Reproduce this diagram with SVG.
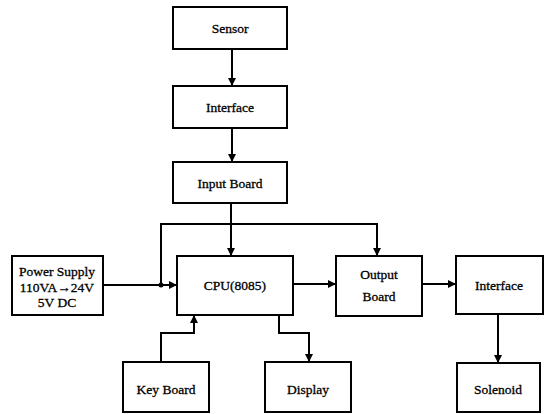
<svg xmlns="http://www.w3.org/2000/svg" width="553" height="414" viewBox="0 0 553 414">
<style>
.box{fill:#fff;stroke:#000;stroke-width:2}
.t{font-family:"Liberation Serif","Times New Roman",serif;font-size:13.5px;fill:#000;text-anchor:middle;dominant-baseline:central;stroke:#000;stroke-width:0.3}
.c{fill:none;stroke:#000;stroke-width:2}
</style>
<defs>
<marker id="ah" viewBox="0 0 10 10" refX="10" refY="5" markerWidth="8" markerHeight="8" markerUnits="userSpaceOnUse" orient="auto">
<path d="M0,0 L10,5 L0,10 z" fill="#000"/>
</marker>
</defs>
<rect width="553" height="414" fill="#fff"/>
<g id="connectors">
<line class="c" x1="232" y1="49" x2="232" y2="86" marker-end="url(#ah)"/>
<line class="c" x1="232" y1="128" x2="232" y2="162" marker-end="url(#ah)"/>
<line class="c" x1="231" y1="203" x2="231" y2="256" marker-end="url(#ah)"/>
<polyline class="c" points="161,285 161,224 377,224 377,256" marker-end="url(#ah)"/>
<line class="c" x1="103" y1="285" x2="177" y2="285" marker-end="url(#ah)"/>
<circle cx="161" cy="285" r="2.5" fill="#000"/>
<line class="c" x1="293" y1="284" x2="336" y2="284" marker-end="url(#ah)"/>
<line class="c" x1="422" y1="284" x2="456" y2="284" marker-end="url(#ah)"/>
<line class="c" x1="498" y1="314" x2="498" y2="363" marker-end="url(#ah)"/>
<polyline class="c" points="161,362 161,333 194,333 194,315" marker-end="url(#ah)"/>
<polyline class="c" points="279,315 279,333 309,333 309,362" marker-end="url(#ah)"/>
</g>
<g id="sensor"><rect class="box" x="173" y="7" width="114" height="42"/><text class="t" x="230" y="28">Sensor</text></g>
<g id="interface-in"><rect class="box" x="173" y="86" width="114" height="42"/><text class="t" x="230" y="107">Interface</text></g>
<g id="input-board"><rect class="box" x="173" y="162" width="114" height="41"/><text class="t" x="230" y="183">Input Board</text></g>
<g id="power-supply"><rect class="box" x="12" y="256" width="91" height="59"/>
<text class="t" x="57" y="271">Power Supply</text>
<text class="t" x="57" y="287">110VA→24V</text>
<text class="t" x="57" y="302">5V DC</text></g>
<g id="cpu"><rect class="box" x="177" y="256" width="116" height="59"/><text class="t" x="235" y="285">CPU(8085)</text></g>
<g id="output-board"><rect class="box" x="336" y="256" width="86" height="60"/><text class="t" x="379" y="274">Output</text><text class="t" x="379" y="296">Board</text></g>
<g id="interface-out"><rect class="box" x="456" y="256" width="87" height="58"/><text class="t" x="499" y="285">Interface</text></g>
<g id="key-board"><rect class="box" x="123" y="362" width="86" height="50"/><text class="t" x="166" y="389">Key Board</text></g>
<g id="display"><rect class="box" x="265" y="362" width="86" height="50"/><text class="t" x="308" y="389">Display</text></g>
<g id="solenoid"><rect class="box" x="457" y="363" width="83" height="49"/><text class="t" x="498" y="389">Solenoid</text></g>
</svg>
